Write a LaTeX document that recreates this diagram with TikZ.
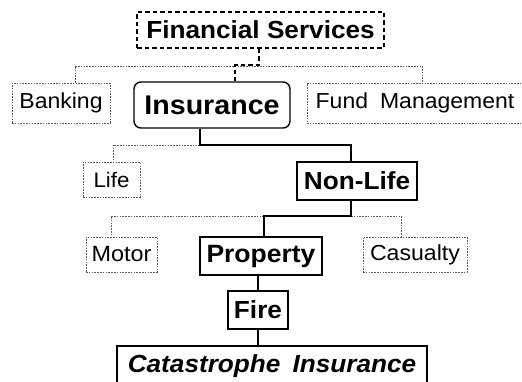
\documentclass[tikz,border=0pt]{standalone}
\usepackage{fontspec}
\setmainfont[FakeStretch=1.06]{Liberation Sans}
\usetikzlibrary{calc}

% Font size for box texts.
\newcommand{\boxfont}[1]{\fontsize{#1}{#1}\selectfont}

\begin{document}
\begin{tikzpicture}[%
        x = 1pt,
        y = 1pt,
        mainbox/.style = {draw, line width = 1.4pt, inner sep = 0pt, font = \bfseries},
        sidebox/.style = {%
            draw = gray!70!black,
            dash pattern = on 1.6pt off 1.2pt,
            line width = 0.6pt,
            inner sep = 0pt
        },
        topbox/.style = {mainbox, line width = 1.3pt, dash pattern = on 4.5pt off 3pt},
        mainline/.style = {line width = 1.4pt},
        sideline/.style = {%
            draw = gray!70!black,
            dash pattern = on 1.6pt off 1.2pt,
            line width = 0.6pt
        },
        topline/.style = {line width = 1.3pt, dash pattern = on 4.5pt off 3pt}
    ]

        \useasboundingbox (0, 0) rectangle (522, 381);

        % Boxes.
        \node[topbox, minimum width = 247pt, minimum height = 36pt] (fin) at (260.5, 351)
            {\boxfont{24.7}Financial Services};
        \node[sidebox, minimum width = 98pt, minimum height = 40pt] (bank) at (61, 278)
            {\boxfont{21.7}Banking};
        \node[mainbox, rounded corners = 7pt, minimum width = 156pt, minimum height = 46pt] (ins) at (212, 276)
            {\boxfont{27}Insurance};
        \node[sidebox, minimum width = 216pt, minimum height = 40pt] (fund) at (415, 278)
            {\boxfont{21.7}Fund\hspace{12pt}Management};
        \node[sidebox, minimum width = 57pt, minimum height = 35pt] (life) at (111.5, 201.5)
            {\boxfont{21}Life\hspace{3pt}};
        \node[mainbox, minimum width = 120pt, minimum height = 38pt] (nonlife) at (357, 200)
            {\boxfont{24.7}Non-Life};
        \node[sidebox, minimum width = 71pt, minimum height = 35pt] (motor) at (121.5, 126.5)
            {\boxfont{22.1}Motor};
        \node[mainbox, minimum width = 122pt, minimum height = 38pt] (prop) at (261, 125)
            {\boxfont{25}Property};
        \node[sidebox, minimum width = 104pt, minimum height = 35pt] (cas) at (415, 126.5)
            {\boxfont{21.8}Casualty};
        \node[mainbox, minimum width = 60pt, minimum height = 38pt] (fire) at (258, 71)
            {\boxfont{24.7}Fire};
        \node[mainbox, minimum width = 310pt, minimum height = 40pt] (cat) at (272, 15)
            {\boxfont{24.7}\itshape Catastrophe\hspace{12pt}Insurance};

        % Junctions.
        \coordinate (jfin) at (260, 315);
        \coordinate (kfin) at (235, 316);
        \coordinate (jins) at (200, 236);
        \coordinate (jnl) at (351, 165);
        \coordinate (knl) at (264, 165);

        % Side branches.
        \draw[sideline] ([xshift = 14pt]bank.north) |- (jfin) -| ([xshift = 7pt]fund.north);
        \draw[sideline] (jins) -| ([xshift = 1.5pt]life.north);
        \draw[sideline] (knl) -| ([xshift = -10.5pt]motor.north);
        \draw[sideline] (jnl) -| ([xshift = -14pt]cas.north);

        % Main path down to the catastrophe cover.
        \draw[topline] ([xshift = -1.5pt]fin.south) |- (kfin) -- (kfin |- ins.north);
        \draw[mainline] (jins |- ins.south) -- (jins) -| ([xshift = -6pt]nonlife.north);
        \draw[mainline] (jnl |- nonlife.south) -- (jnl) -| (knl |- prop.north);
        \draw[mainline] (fire.north) -- (fire.north |- prop.south);
        \draw[mainline] (fire.south) -- (fire.south |- cat.north);
\end{tikzpicture}
\end{document}
